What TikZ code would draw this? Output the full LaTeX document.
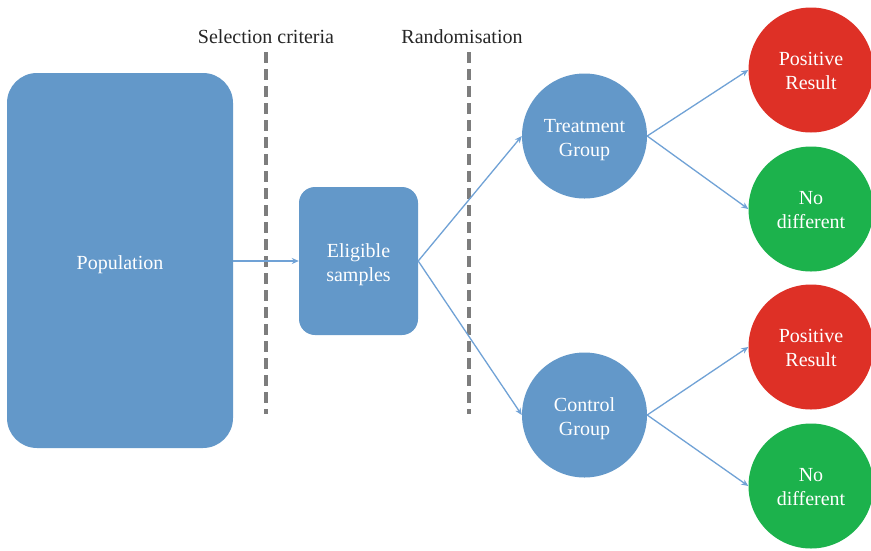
\documentclass[tikz,border=0pt]{standalone}
\usepackage{fontspec}
\setmainfont{Liberation Serif}
\usetikzlibrary{arrows.meta}
\definecolor{boxblue}{RGB}{99,152,201}
\definecolor{arrowblue}{RGB}{112,162,214}
\definecolor{resred}{RGB}{222,48,38}
\definecolor{resgreen}{RGB}{28,178,76}
\definecolor{dashgray}{RGB}{125,125,125}
\begin{document}
\begin{tikzpicture}[x=1pt,y=-1pt,
  txt/.style={font=\fontsize{20}{24}\selectfont, text=white, align=center},
  caption/.style={label={[txt, yshift=-4pt]center:#1}},
  outcome caption/.style={label={[txt, yshift=-1pt]center:#1}},
  bluebox/.style={fill=boxblue, draw=none, inner sep=0pt},
  bubble/.style={circle, draw=none, minimum size=125pt, inner sep=0pt},
  stage/.style={font=\fontsize{20}{24}\selectfont, text=black!85},
  divider/.style={draw=dashgray, line width=4pt, dash pattern=on 11pt off 6pt},
  link/.style={draw=arrowblue, line width=1.3pt, -{Stealth[length=7pt,width=6pt]}}
]
\useasboundingbox (0,0) rectangle (871,550);
\fill[white] (0,0) rectangle (871,550);

% stage dividers and their headings
\coordinate (selTop) at (266,52);
\coordinate (selBot) at (266,414);
\coordinate (rndTop) at (469,52);
\coordinate (rndBot) at (469,414);
\draw[divider] (selTop) -- (selBot);
\draw[divider] (rndTop) -- (rndBot);
\node[stage] (selLbl) at (266,37) {Selection criteria};
\node[stage] (rndLbl) at (462,37) {Randomisation};

% boxes
\node[bluebox, rounded corners=30pt, minimum width=226pt, minimum height=375pt,
      caption={Population}] (pop) at (120,260.5) {};
\node[bluebox, rounded corners=16pt, minimum width=119pt, minimum height=148pt,
      caption={Eligible\\samples}] (elig) at (358.5,261) {};

% groups
\node[bubble, fill=boxblue, caption={Treatment\\Group}] (treat) at (584.5,136) {};
\node[bubble, fill=boxblue, caption={Control\\Group}] (ctrl) at (584.5,415) {};

% outcomes
\node[bubble, fill=resred, outcome caption={Positive\\Result}] (pos1) at (811,70) {};
\node[bubble, fill=resgreen, outcome caption={No\\different}] (nod1) at (811,209) {};
\node[bubble, fill=resred, outcome caption={Positive\\Result}] (pos2) at (811,347) {};
\node[bubble, fill=resgreen, outcome caption={No\\different}] (nod2) at (811,486) {};

% connectors
\draw[link] (pop.east |- elig.west) -- (elig.west);
\draw[link] (elig.east) -- (treat.west);
\draw[link] (elig.east) -- (ctrl.west);
\draw[link] (treat.east) -- (pos1.west);
\draw[link] (treat.east) -- (nod1.west);
\draw[link] (ctrl.east) -- (pos2.west);
\draw[link] (ctrl.east) -- (nod2.west);
\end{tikzpicture}
\end{document}
